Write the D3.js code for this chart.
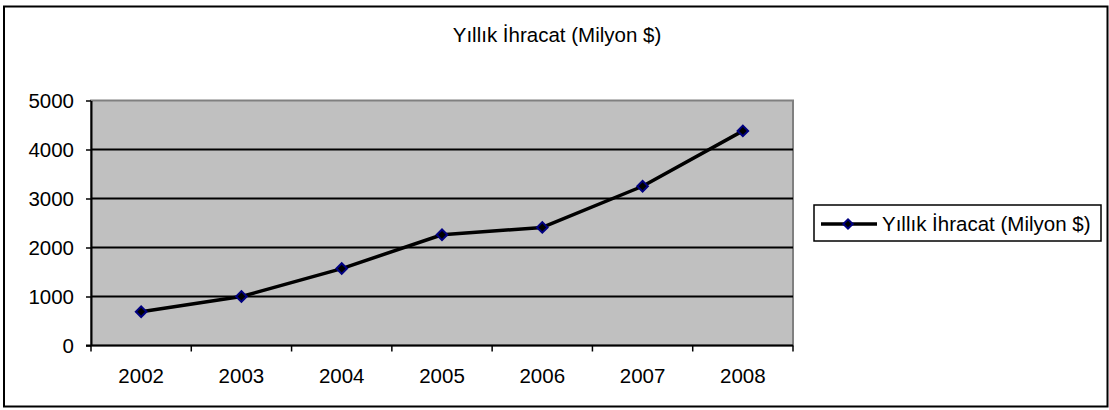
<!DOCTYPE html>
<html>
<head>
<meta charset="utf-8">
<script src="https://cdn.jsdelivr.net/npm/d3@7"></script>
<style>
  body { margin: 0; background: #fff; }
  text { font-family: Arial, "Liberation Sans", sans-serif; fill: #000; }
</style>
</head>
<body>
<div id="chart"></div>
<script>
const years = ["2002", "2003", "2004", "2005", "2006", "2007", "2008"];
const exports = [690, 1000, 1570, 2260, 2410, 3250, 4380];
const yTicks = [0, 1000, 2000, 3000, 4000, 5000];
const seriesName = "Yıllık İhracat (Milyon $)";

const W = 1109, H = 410;
const plot = {left: 91, top: 100.5, right: 793, bottom: 345.5};
const fontSize = 20.5;

const svg = d3.select("#chart").append("svg")
    .attr("width", W)
    .attr("height", H);

// outer frame
svg.append("rect")
    .attr("x", 4).attr("y", 6.5)
    .attr("width", 1103.5).attr("height", 400)
    .attr("fill", "#fff")
    .attr("stroke", "#000")
    .attr("stroke-width", 2);

svg.append("text")
    .attr("x", 557).attr("y", 42)
    .attr("text-anchor", "middle")
    .style("font-size", fontSize + "px")
    .text(seriesName);

const x = d3.scaleBand().domain(years).range([plot.left, plot.right]);
const y = d3.scaleLinear().domain([0, 5000]).range([plot.bottom, plot.top]);

// plot background
svg.append("rect")
    .attr("x", plot.left).attr("y", plot.top)
    .attr("width", plot.right - plot.left).attr("height", plot.bottom - plot.top)
    .attr("fill", "#c0c0c0")
    .attr("stroke", "#808080")
    .attr("stroke-width", 2);

// grid lines
svg.append("g")
    .selectAll("line")
    .data(yTicks.filter(d => d > 0 && d < 5000))
    .enter().append("line")
    .attr("x1", plot.left).attr("x2", plot.right)
    .attr("y1", d => y(d)).attr("y2", d => y(d))
    .attr("stroke", "#000")
    .attr("stroke-width", 2);

// y axis
const yAxis = svg.append("g")
    .attr("transform", "translate(" + plot.left + ",0)")
    .call(d3.axisLeft(y).tickValues(yTicks).tickFormat(d3.format("d"))
        .tickSize(5).tickPadding(12).tickSizeOuter(0));
yAxis.select(".domain").attr("stroke", "#000").attr("stroke-width", 2);
yAxis.selectAll(".tick line").attr("stroke", "#000").attr("stroke-width", 1.5);
yAxis.selectAll(".tick text")
    .style("font-size", fontSize + "px")
    .attr("dy", "0.36em")
    .attr("font-family", null);

// x axis, ticks at category boundaries
const xAxis = svg.append("g")
    .attr("transform", "translate(0," + plot.bottom + ")");
xAxis.append("line")
    .attr("x1", plot.left - 5).attr("x2", plot.right)
    .attr("stroke", "#000").attr("stroke-width", 2);
xAxis.selectAll(".xt")
    .data(years.concat(["end"]))
    .enter().append("line")
    .attr("class", "xt")
    .attr("x1", (d, i) => i < years.length ? x(d) : x(years[years.length - 1]) + x.bandwidth())
    .attr("x2", (d, i) => i < years.length ? x(d) : x(years[years.length - 1]) + x.bandwidth())
    .attr("y1", 0).attr("y2", 6)
    .attr("stroke", "#000").attr("stroke-width", 1.5);
xAxis.selectAll(".xl")
    .data(years)
    .enter().append("text")
    .attr("class", "xl")
    .attr("x", d => x(d) + x.bandwidth() / 2)
    .attr("y", 37)
    .attr("text-anchor", "middle")
    .style("font-size", fontSize + "px")
    .text(d => d);

// series line
const line = d3.line()
    .x((d, i) => x(years[i]) + x.bandwidth() / 2)
    .y(d => y(d));

svg.append("path")
    .datum(exports)
    .attr("d", line)
    .attr("fill", "none")
    .attr("stroke", "#000")
    .attr("stroke-width", 3.5)
    .attr("stroke-linejoin", "round");

svg.selectAll(".pt")
    .data(exports)
    .enter().append("path")
    .attr("class", "pt")
    .attr("transform", (d, i) => "translate(" + (x(years[i]) + x.bandwidth() / 2) + "," + y(d) + ") rotate(45)")
    .attr("d", d3.symbol().type(d3.symbolSquare).size(56))
    .attr("fill", "#000")
    .attr("stroke", "#000080")
    .attr("stroke-width", 2);

// legend
const lg = svg.append("g");
lg.append("rect")
    .attr("x", 814).attr("y", 205)
    .attr("width", 287).attr("height", 36)
    .attr("fill", "#fff")
    .attr("stroke", "#000")
    .attr("stroke-width", 1.5);
lg.append("line")
    .attr("x1", 821).attr("x2", 877)
    .attr("y1", 224).attr("y2", 224)
    .attr("stroke", "#000").attr("stroke-width", 3.5);
lg.append("path")
    .attr("transform", "translate(848,224) rotate(45)")
    .attr("d", d3.symbol().type(d3.symbolSquare).size(44))
    .attr("fill", "#000")
    .attr("stroke", "#000080")
    .attr("stroke-width", 2);
lg.append("text")
    .attr("x", 882).attr("y", 230.5)
    .style("font-size", fontSize + "px")
    .text(seriesName);
</script>
</body>
</html>
